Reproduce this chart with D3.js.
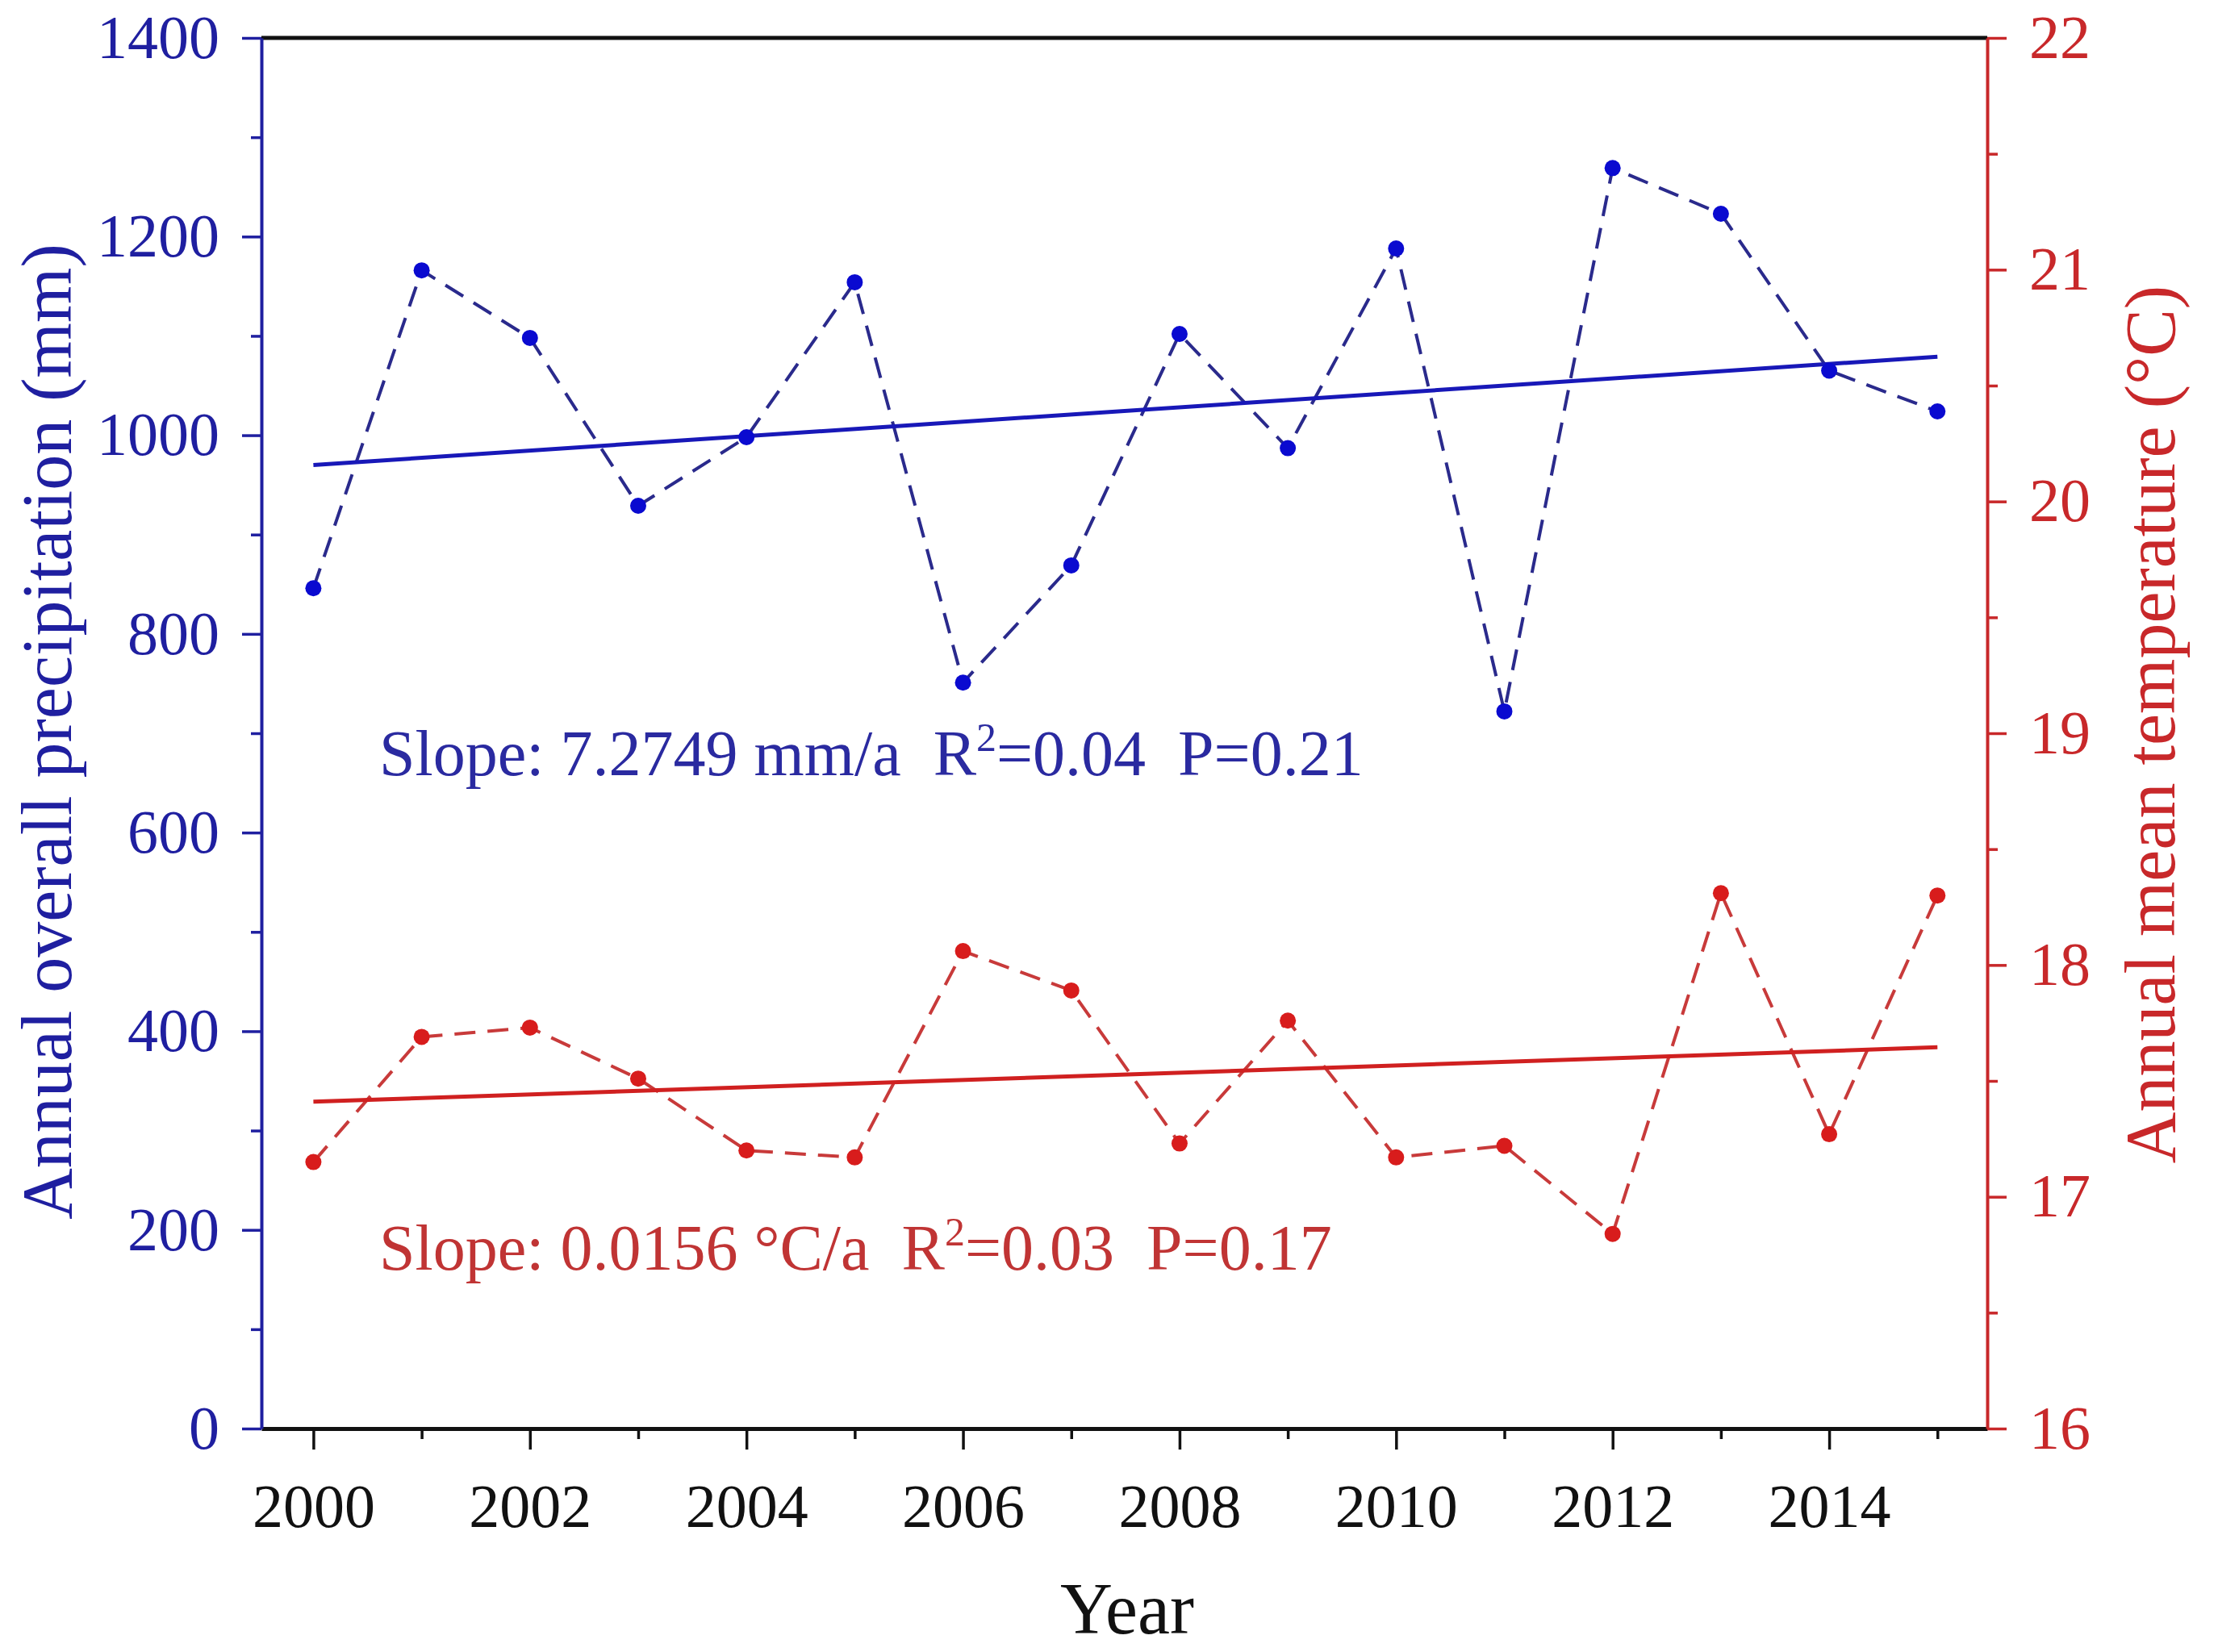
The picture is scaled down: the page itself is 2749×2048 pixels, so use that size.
<!DOCTYPE html>
<html>
<head>
<meta charset="utf-8">
<script src="https://cdn.jsdelivr.net/npm/d3@7/dist/d3.min.js"></script>
<style>
  body { margin: 0; background: #fff; }
  text { font-family: "Liberation Serif", "Times New Roman", serif; }
</style>
</head>
<body>
<div id="chart"></div>
<script>
const years = [2000, 2001, 2002, 2003, 2004, 2005, 2006, 2007, 2008, 2009, 2010, 2011, 2012, 2013, 2014, 2015];
const precipitation = [846, 1166, 1098, 929, 998, 1154, 751, 869, 1102, 987, 1188, 722, 1269, 1223, 1065, 1024];
const temperature = [17.15, 17.69, 17.73, 17.51, 17.20, 17.17, 18.06, 17.89, 17.23, 17.76, 17.17, 17.22, 16.84, 18.31, 17.27, 18.30];
const precipTrend = [970, 1079];   // fitted values at 2000 and 2015
const tempTrend = [17.41, 17.645];
const precipTicks = [0, 200, 400, 600, 800, 1000, 1200, 1400];
const tempTicks = [16, 17, 18, 19, 20, 21, 22];
const yearTicks = [2000, 2002, 2004, 2006, 2008, 2010, 2012, 2014];

const width = 2749, height = 2048;
const plotLeft = 324, plotRight = 2463, plotTop = 47, plotBottom = 1771;

const blue = '#1f1fa0';
const blueDot = '#0a0ad0';
const red = '#c8282a';
const redDot = '#d81c1c';

const svg = d3.select('#chart')
    .append('svg')
    .attr('width', width)
    .attr('height', height);

const x = d3.scaleLinear().domain([1999.52, 2015.46]).range([plotLeft, plotRight]);
const yP = d3.scaleLinear().domain([0, 1400]).range([plotBottom, plotTop]);
const yT = d3.scaleLinear().domain([16, 22]).range([plotBottom, plotTop]);

// top frame line
svg.append('line')
    .attr('x1', plotLeft).attr('x2', plotRight)
    .attr('y1', plotTop).attr('y2', plotTop)
    .attr('stroke', '#111').attr('stroke-width', 5);

// bottom axis, minor ticks first
const minorYears = d3.range(2001, 2016, 2);
svg.append('g')
    .attr('transform', `translate(0,${plotBottom})`)
    .call(d3.axisBottom(x).tickValues(minorYears).tickSize(13).tickFormat(''))
    .call(g => g.select('.domain').remove())
    .selectAll('line').attr('stroke', '#111').attr('stroke-width', 3.5);

const xAxis = svg.append('g')
    .attr('transform', `translate(0,${plotBottom})`)
    .call(d3.axisBottom(x).tickValues(yearTicks).tickSize(26).tickSizeOuter(0).tickPadding(42).tickFormat(d3.format('d')));
xAxis.select('.domain').attr('stroke', '#111').attr('stroke-width', 5);
xAxis.selectAll('.tick line').attr('stroke', '#111').attr('stroke-width', 3.5);
xAxis.selectAll('text').attr('font-size', 76).attr('fill', '#111')
    .attr('font-family', '"Liberation Serif", serif');

// left axis
svg.append('g')
    .attr('transform', `translate(${plotLeft},0)`)
    .call(d3.axisLeft(yP).tickValues(d3.range(100, 1400, 200)).tickSize(13).tickFormat(''))
    .call(g => g.select('.domain').remove())
    .selectAll('line').attr('stroke', blue).attr('stroke-width', 3.5);

const yAxisL = svg.append('g')
    .attr('transform', `translate(${plotLeft},0)`)
    .call(d3.axisLeft(yP).tickValues(precipTicks).tickSize(24).tickSizeOuter(0).tickPadding(28).tickFormat(d3.format('d')));
yAxisL.select('.domain').attr('stroke', blue).attr('stroke-width', 4);
yAxisL.selectAll('.tick line').attr('stroke', blue).attr('stroke-width', 3.5);
yAxisL.selectAll('text').attr('font-size', 76).attr('fill', blue)
    .attr('font-family', '"Liberation Serif", serif');

// right axis
svg.append('g')
    .attr('transform', `translate(${plotRight},0)`)
    .call(d3.axisRight(yT).tickValues(d3.range(16.5, 22, 1)).tickSize(13).tickFormat(''))
    .call(g => g.select('.domain').remove())
    .selectAll('line').attr('stroke', red).attr('stroke-width', 3.5);

const yAxisR = svg.append('g')
    .attr('transform', `translate(${plotRight},0)`)
    .call(d3.axisRight(yT).tickValues(tempTicks).tickSize(24).tickSizeOuter(0).tickPadding(28).tickFormat(d3.format('d')));
yAxisR.select('.domain').attr('stroke', red).attr('stroke-width', 4);
yAxisR.selectAll('.tick line').attr('stroke', red).attr('stroke-width', 3.5);
yAxisR.selectAll('text').attr('font-size', 76).attr('fill', red)
    .attr('font-family', '"Liberation Serif", serif');

// precipitation series
svg.append('path')
    .datum(precipitation)
    .attr('fill', 'none')
    .attr('stroke', '#2a2a8c')
    .attr('stroke-width', 4)
    .attr('stroke-dasharray', '26,15')
    .attr('d', d3.line().x((d, i) => x(years[i])).y(d => yP(d)));

svg.append('line')
    .attr('x1', x(years[0])).attr('x2', x(years[years.length - 1]))
    .attr('y1', yP(precipTrend[0])).attr('y2', yP(precipTrend[1]))
    .attr('stroke', '#1818b8').attr('stroke-width', 5);

svg.selectAll('.pdot')
    .data(precipitation)
    .join('circle')
    .attr('class', 'pdot')
    .attr('cx', (d, i) => x(years[i]))
    .attr('cy', d => yP(d))
    .attr('r', 10)
    .attr('fill', blueDot);

// temperature series
svg.append('path')
    .datum(temperature)
    .attr('fill', 'none')
    .attr('stroke', '#c83a3a')
    .attr('stroke-width', 4)
    .attr('stroke-dasharray', '26,15')
    .attr('d', d3.line().x((d, i) => x(years[i])).y(d => yT(d)));

svg.append('line')
    .attr('x1', x(years[0])).attr('x2', x(years[years.length - 1]))
    .attr('y1', yT(tempTrend[0])).attr('y2', yT(tempTrend[1]))
    .attr('stroke', '#d02020').attr('stroke-width', 5);

svg.selectAll('.tdot')
    .data(temperature)
    .join('circle')
    .attr('class', 'tdot')
    .attr('cx', (d, i) => x(years[i]))
    .attr('cy', d => yT(d))
    .attr('r', 10)
    .attr('fill', redDot);

// annotations
function statText(xPos, yPos, color, first, r2, p) {
  const t = svg.append('text')
      .attr('x', xPos).attr('y', yPos)
      .attr('font-size', 80)
      .attr('fill', color)
      .attr('xml:space', 'preserve');
  t.append('tspan').text(first + '  R');
  t.append('tspan').attr('dy', -30).attr('font-size', 50).text('2');
  t.append('tspan').attr('dy', 30).text('=' + r2 + '  P=' + p);
}
statText(470, 961, '#2a2aa0', 'Slope: 7.2749 mm/a', '0.04', '0.21');
statText(470, 1574, '#c03434', 'Slope: 0.0156 \u00b0C/a', '0.03', '0.17');

// axis titles
svg.append('text')
    .attr('transform', 'translate(58,907) rotate(-90)')
    .attr('text-anchor', 'middle')
    .attr('dominant-baseline', 'central')
    .attr('font-size', 88)
    .attr('fill', blue)
    .text('Annual overall precipitation (mm)');

svg.append('text')
    .attr('transform', 'translate(2665,898) rotate(-90)')
    .attr('text-anchor', 'middle')
    .attr('dominant-baseline', 'central')
    .attr('font-size', 88)
    .attr('fill', red)
    .text('Annual mean temperature (\u00b0C)');

svg.append('text')
    .attr('x', 1397).attr('y', 2025)
    .attr('text-anchor', 'middle')
    .attr('font-size', 90)
    .attr('fill', '#111')
    .text('Year');
</script>
</body>
</html>
